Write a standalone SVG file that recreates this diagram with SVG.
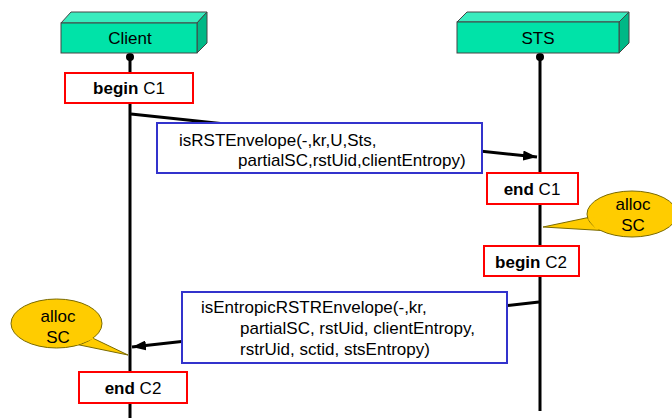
<svg xmlns="http://www.w3.org/2000/svg" width="672" height="418" viewBox="0 0 672 418">
<defs>
<style>
.front{fill:#00e3a8;stroke:#444;stroke-width:1}
.top{fill:#38ecbe;stroke:#444;stroke-width:1}
.side{fill:#00b886;stroke:#444;stroke-width:1}
.life{stroke:#000;stroke-width:3;fill:none}
.msg{stroke:#000;stroke-width:3;fill:none}
.red{fill:#fff;stroke:#ff0000;stroke-width:2}
.blue{fill:#fff;stroke:#3333cc;stroke-width:2}
.call{fill:#ffcc00;stroke:#7a6a00;stroke-width:1}
.callfill{fill:#ffcc00;stroke:none}
text{font-family:"Liberation Sans",Arial,sans-serif;font-size:17px;fill:#000}
.c{text-anchor:middle}
.b{font-weight:bold}
</style>
<marker id="ah" viewBox="0 0 14 10" refX="14" refY="5" markerWidth="14" markerHeight="10" markerUnits="userSpaceOnUse" orient="auto">
<path d="M0,0 L14,5 L0,10 Z" fill="#000"/>
</marker>
</defs>

<g id="lifelines">
<line class="life" x1="130" y1="57" x2="130" y2="418"/>
<line class="life" x1="540" y1="57" x2="540" y2="411"/>
<circle cx="130" cy="57" r="4" fill="#000"/>
<circle cx="540" cy="57" r="4" fill="#000"/>
</g>

<g id="client">
<polygon class="top" points="61,23 71,12 207,12 197,23"/>
<polygon class="side" points="197,23 207,12 207,43 197,53"/>
<rect class="front" x="61" y="23" width="136" height="30"/>
<text class="c" x="130" y="44">Client</text>
</g>

<g id="sts">
<polygon class="top" points="457,22 467,12 629,12 619,22"/>
<polygon class="side" points="619,22 629,12 629,43 619,53"/>
<rect class="front" x="457" y="22" width="162" height="31"/>
<text class="c" x="538" y="44">STS</text>
</g>

<g id="connectors">
<line class="msg" x1="131" y1="114" x2="537" y2="157" marker-end="url(#ah)"/>
<line class="msg" x1="539" y1="302" x2="132" y2="347" marker-end="url(#ah)"/>
</g>

<g id="beginC1">
<rect class="red" x="65" y="73" width="128" height="30"/>
<text class="c" x="129" y="94"><tspan class="b">begin</tspan> C1</text>
</g>

<g id="msg1">
<rect class="blue" x="157" y="123" width="325" height="50"/>
<text x="179" y="146">isRSTEnvelope(-,kr,U,Sts,</text>
<text x="238" y="166">partialSC,rstUid,clientEntropy)</text>
</g>

<g id="endC1">
<rect class="red" x="487" y="173" width="91" height="31"/>
<text class="c" x="532" y="195"><tspan class="b">end</tspan> C1</text>
</g>

<g id="allocSC1">
<polygon class="call" points="543,227 605,214 610,231"/>
<ellipse class="call" cx="632" cy="214" rx="45" ry="23"/>
<polygon class="callfill" points="588,219 605,214 610,231 596,229"/>
<text class="c" x="633" y="210">alloc</text>
<text class="c" x="633" y="231">SC</text>
</g>

<g id="beginC2">
<rect class="red" x="484" y="246" width="95" height="30"/>
<text class="c" x="531" y="268"><tspan class="b">begin</tspan> C2</text>
</g>

<g id="msg2">
<rect class="blue" x="182" y="292" width="325" height="71"/>
<text x="201" y="313">isEntropicRSTREnvelope(-,kr,</text>
<text x="240" y="334">partialSC, rstUid, clientEntropy,</text>
<text x="240" y="355">rstrUid, sctid, stsEntropy)</text>
</g>

<g id="allocSC2">
<polygon class="call" points="128,355 80,332 65,342"/>
<ellipse class="call" cx="56.5" cy="323.5" rx="45.5" ry="24.5"/>
<polygon class="callfill" points="94,338.5 80,332 65,342 77,345"/>
<text class="c" x="58" y="322">alloc</text>
<text class="c" x="58" y="343">SC</text>
</g>

<g id="endC2">
<rect class="red" x="79" y="372" width="108" height="31"/>
<text class="c" x="133" y="394"><tspan class="b">end</tspan> C2</text>
</g>
</svg>
